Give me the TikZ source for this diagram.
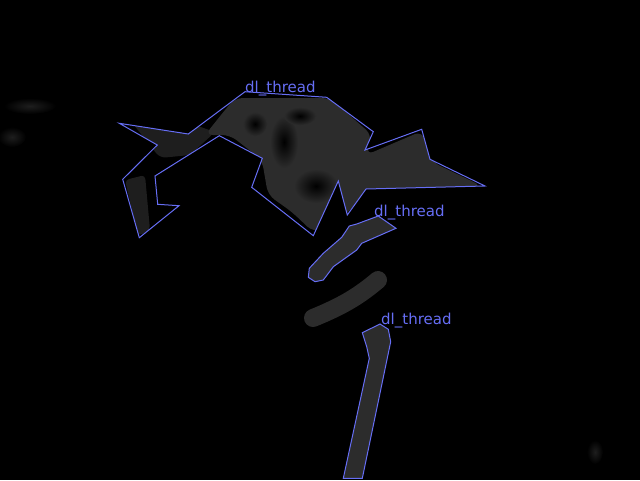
\documentclass[tikz,border=0pt]{standalone}
\usepackage{fontspec}
\setmainfont{DejaVu Sans}
\definecolor{annot}{RGB}{102,110,245}
\definecolor{blob}{RGB}{44,44,44}
\definecolor{blobdim}{RGB}{30,30,30}
\tikzset{
  outline/.style={draw=annot, line width=1pt, line join=miter},
  lbl/.style={anchor=base west, inner sep=0pt, text=annot, font=\fontsize{15}{15}\selectfont},
  hole/.style={inner color=black, outer color=blob},
  faint/.style={inner color=blobdim, outer color=black},
}
\begin{document}
\begin{tikzpicture}[x=1pt,y=-1pt]
\fill[black] (0,0) rectangle (640,480);
\useasboundingbox (0,0) rectangle (640,480);
% faint background blobs
\shade[faint] (30,106) ellipse (26 and 8);
\shade[faint] (12,137) ellipse (14 and 10);
\shade[faint] (595,452) ellipse (8 and 12);
% top region grey content, clipped to polygon
\begin{scope}
\clip (245,91.7) -- (326.7,97.3) -- (373.3,131.7) -- (365,150) -- (421.7,129.3) -- (430,159.3) -- (485,186) -- (366,189) -- (347.3,215) -- (338.3,181) -- (313.3,235.7) -- (251.7,187.3) -- (262.3,158.3) -- (219.3,135.7) -- (155,176) -- (157.7,204.3) -- (179,205.7) -- (139.3,237.7) -- (122.7,179.3) -- (157.3,145) -- (119.3,123.3) -- (188.3,134) -- cycle;
\fill[blobdim, rounded corners=6pt] (130,120) -- (195,125) -- (215,132) -- (190,155) -- (160,158) -- cycle;
\fill[blobdim, rounded corners=4pt] (125,180) -- (145,175) -- (150,230) -- (138,236) -- cycle;
\fill[blob, rounded corners=8pt] (235,98) -- (330,98) -- (372,135) -- (366,155) -- (422,131) -- (432,162) -- (482,186) -- (368,192) -- (348,212) -- (330,228) -- (313,232) -- (292,212) -- (268,195) -- (262,160) -- (230,135) -- (205,135) -- (225,110) -- cycle;
\shade[hole] (316,186) ellipse (22 and 17);
\shade[hole] (284,142) ellipse (14 and 26);
\shade[hole] (255,124) ellipse (12 and 12);
\shade[hole] (300,116) ellipse (16 and 9);
\end{scope}
% lower unannotated thread
\draw[blob, line width=18pt, line cap=round] (313,318) .. controls (345,305) and (360,295) .. (378,280);
% filled thread segments
\fill[blob] (378.3,216) -- (396,228.3) -- (361.7,243.3) -- (356.7,250) -- (333.3,266.7) -- (323.3,280) -- (315,281.7) -- (308.3,277.3) -- (309.3,268.3) -- (323.3,253.3) -- (341.7,237.3) -- (349.3,226) -- (356.7,224) -- cycle;
\fill[blob] (380,324) -- (388.3,329.3) -- (390.7,341.7) -- (362.3,478.3) -- (343.3,478.3) -- (369.3,358.3) -- (366.7,346.7) -- (362.3,332.7) -- cycle;
% annotation outlines
\draw[outline] (245,91.7) -- (326.7,97.3) -- (373.3,131.7) -- (365,150) -- (421.7,129.3) -- (430,159.3) -- (485,186) -- (366,189) -- (347.3,215) -- (338.3,181) -- (313.3,235.7) -- (251.7,187.3) -- (262.3,158.3) -- (219.3,135.7) -- (155,176) -- (157.7,204.3) -- (179,205.7) -- (139.3,237.7) -- (122.7,179.3) -- (157.3,145) -- (119.3,123.3) -- (188.3,134) -- cycle;
\draw[outline] (378.3,216) -- (396,228.3) -- (361.7,243.3) -- (356.7,250) -- (333.3,266.7) -- (323.3,280) -- (315,281.7) -- (308.3,277.3) -- (309.3,268.3) -- (323.3,253.3) -- (341.7,237.3) -- (349.3,226) -- (356.7,224) -- cycle;
\draw[outline] (380,324) -- (388.3,329.3) -- (390.7,341.7) -- (362.3,478.3) -- (343.3,478.3) -- (369.3,358.3) -- (366.7,346.7) -- (362.3,332.7) -- cycle;
% labels
\node[lbl] (l1) at (245,92) {dl\_thread};
\node[lbl] (l2) at (374,216) {dl\_thread};
\node[lbl] (l3) at (381,324) {dl\_thread};
\end{tikzpicture}
\end{document}
